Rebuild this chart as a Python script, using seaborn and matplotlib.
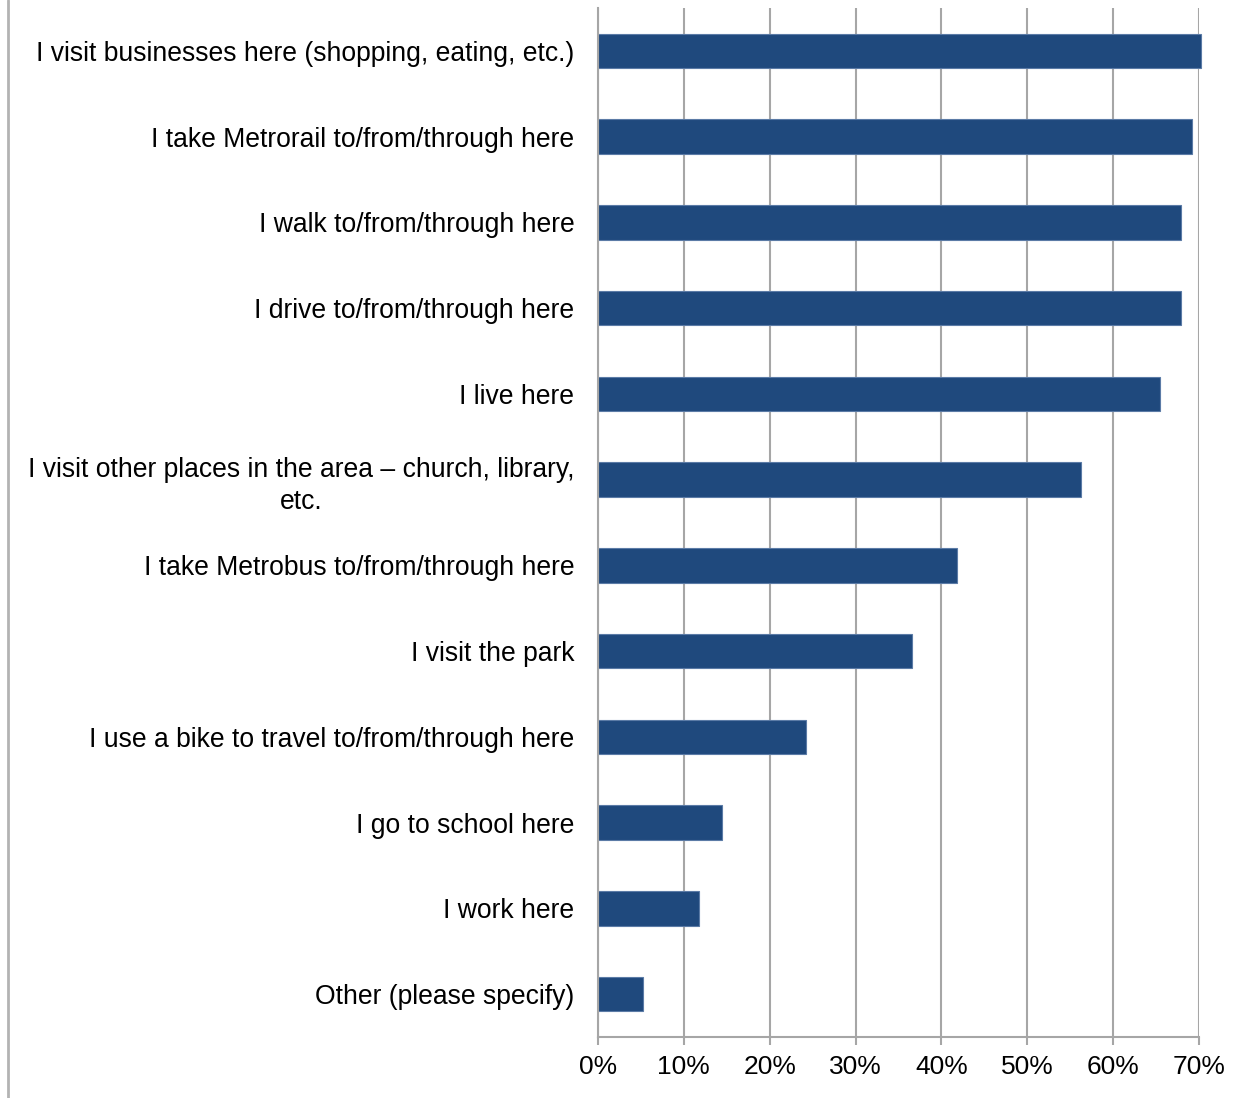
import matplotlib
matplotlib.use("Agg")
import matplotlib.pyplot as plt
import seaborn as sns
import pandas as pd
from matplotlib.ticker import FuncFormatter
from matplotlib.lines import Line2D

categories = [
    "I visit businesses here (shopping, eating, etc.)",
    "I take Metrorail to/from/through here",
    "I walk to/from/through here",
    "I drive to/from/through here",
    "I live here",
    "I visit other places in the area \u2013 church, library,\netc.",
    "I take Metrobus to/from/through here",
    "I visit the park",
    "I use a bike to travel to/from/through here",
    "I go to school here",
    "I work here",
    "Other (please specify)",
]
values = [0.702, 0.692, 0.679, 0.679, 0.654, 0.562, 0.418, 0.366, 0.242, 0.144, 0.118, 0.052]
x_ticks = [0.0, 0.1, 0.2, 0.3, 0.4, 0.5, 0.6, 0.7]

df = pd.DataFrame({"category": categories, "value": values})

sns.set_style("white")
plt.rcParams["font.family"] = ["Liberation Sans", "DejaVu Sans"]
plt.rcParams["text.color"] = "black"
plt.rcParams["xtick.color"] = "black"
plt.rcParams["ytick.color"] = "black"

fig = plt.figure(figsize=(12.53, 10.98), dpi=100)
ax = fig.add_axes([598 / 1253, 1 - 1037 / 1098, (1199 - 598) / 1253, (1037 - 8) / 1098])

sns.barplot(data=df, x="value", y="category", orient="h", color="#1F497D",
            saturation=1, width=0.4, edgecolor="#5B7BA6", linewidth=0.8, ax=ax)
for p in ax.patches:
    p.set_clip_on(False)

ax.set_xlim(0, 0.7)
ax.set_xticks(x_ticks)
ax.xaxis.set_major_formatter(FuncFormatter(lambda v, _: f"{v * 100:.0f}%"))
ax.set_xlabel("")
ax.set_ylabel("")

grid_color = "#A6A6A6"
ax.grid(axis="x", color=grid_color, linewidth=1.5)
ax.grid(axis="y", visible=False)
ax.set_axisbelow(True)
for side in ["top", "right"]:
    ax.spines[side].set_visible(False)
for side in ["left", "bottom"]:
    ax.spines[side].set_visible(True)
    ax.spines[side].set_color(grid_color)
    ax.spines[side].set_linewidth(1.5)

ax.tick_params(axis="x", length=6, width=1.5, color=grid_color, direction="out",
               labelsize=19, labelcolor="black", pad=7, bottom=True)
ax.tick_params(axis="y", length=0, labelsize=19.1, labelcolor="black", pad=17)
for lbl in ax.get_yticklabels():
    lbl.set_multialignment("center")
    lbl.set_linespacing(1.32)

fig.add_artist(Line2D([7.5 / 1253, 7.5 / 1253], [0, 1], transform=fig.transFigure,
                      color="#B3B3B3", linewidth=2))

fig.savefig("out.png", dpi=100, facecolor="white")
